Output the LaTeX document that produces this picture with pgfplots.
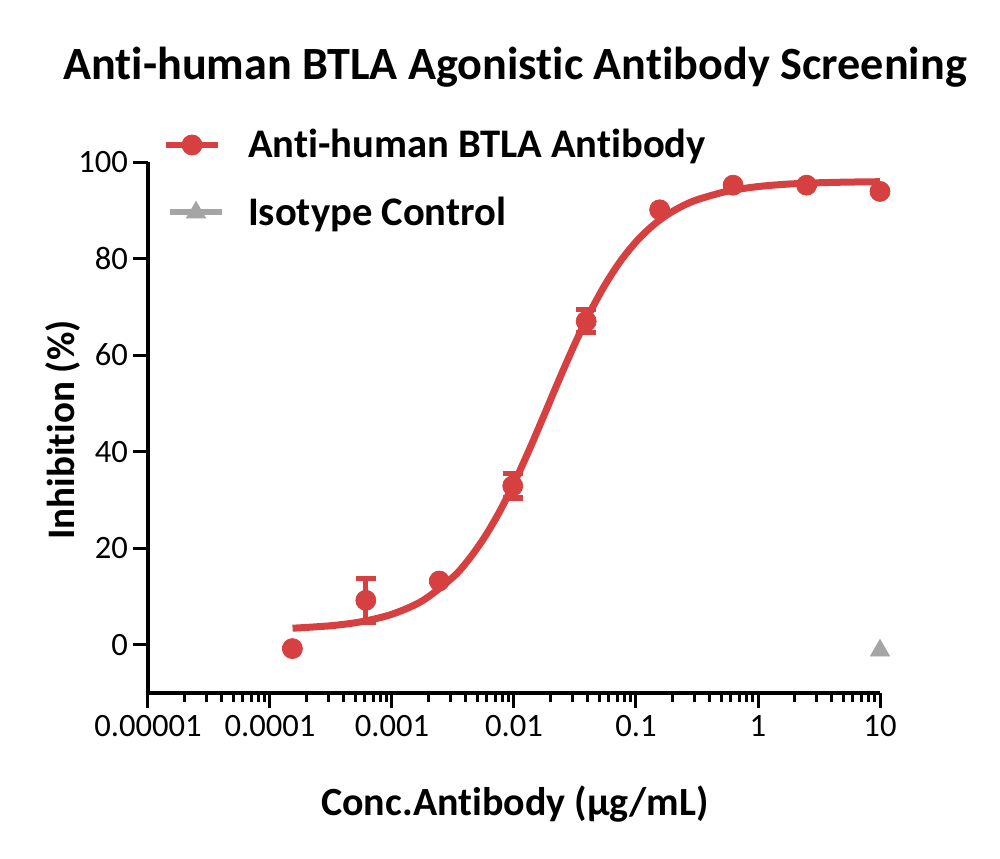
\documentclass[border=0pt]{standalone}
\usepackage{pgfplots}
\pgfplotsset{compat=1.18}
\usepackage{fontspec}
\setmainfont[Ligatures=NoCommon]{Carlito}
\definecolor{myred}{RGB}{214,64,64}
\definecolor{mygray}{RGB}{165,165,165}
\begin{document}
\begin{tikzpicture}
\begin{axis}[
  at={(0,0)}, anchor=south west,
  scale only axis, width=366pt, height=265.5pt,
  xmode=log, xmin=1e-5, xmax=10,
  ymin=-10, ymax=100,
  axis x line*=bottom, axis y line*=left,
  axis line style={line width=2.1pt, -},
  tick align=outside,
  major tick length=7.5pt, minor tick length=4.5pt,
  tick style={line width=1.5pt, black},
  xtick={1e-5,1e-4,1e-3,1e-2,1e-1,1,10},
  xticklabels={0.00001,0.0001,0.001,0.01,0.1,1,10},
  ytick={0,20,40,60,80,100},
  tick label style={font=\fontsize{16.3}{19}\selectfont},
  yticklabel style={xshift=1pt},
  /pgf/number format/assume math mode=true,
  clip=false,
  legend style={draw=none, fill=none, inner sep=0pt, at={(0.02,1.07)}, anchor=north west,
    font=\fontsize{20.3}{24}\selectfont\bfseries, row sep=14pt},
  legend cell align=left,
]
\addlegendimage{legend image code/.code={\draw[myred, line width=3pt] (0pt,0pt)--(26pt,0pt); \fill[myred] (13pt,0pt) circle (5pt); \path[draw=none, fill=none] (0pt,0pt) -- (39pt,0pt);}}
\addlegendentry{Anti-human BTLA Antibody}
\addlegendimage{legend image code/.code={\draw[mygray, line width=3pt] (2pt,0pt)--(28pt,0pt); \fill[mygray] (15pt,0pt) +(90:5.5pt) -- +(210:5.5pt) -- +(330:5.5pt) -- cycle; \path[draw=none, fill=none] (0pt,0pt) -- (39pt,0pt);}}
\addlegendentry{Isotype Control}

% fitted curve
\addplot[myred, line width=3.5pt, smooth, forget plot] coordinates {
(1.531e-4,3.42) (3.162e-4,3.94) (5.623e-4,4.77) (0.001,6.32) (1.778e-3,9.11)
(3.162e-3,14.0) (4.217e-3,17.53) (5.623e-3,21.94) (7.499e-3,27.25) (0.01,33.46)
(0.01334,40.38) (0.01778,47.75) (0.02371,55.22) (0.03162,62.4) (0.04217,68.97)
(0.05623,74.71) (0.07499,79.54) (0.1,83.46) (0.1334,86.57) (0.1778,88.97)
(0.2371,90.80) (0.3162,92.17) (0.5623,93.95) (1,94.91) (1.778,95.43)
(3.162,95.70) (5.623,95.84) (10,95.92)
};
% data with error bars
\addplot[myred, only marks, mark=*, mark size=5pt, forget plot,
  error bars/.cd, y dir=both, y explicit,
  error bar style={line width=2.6pt, myred},
  error mark options={rotate=90, mark size=5pt, line width=2.6pt, myred}]
coordinates {
(1.526e-4,-0.8) +- (0,0)
(6.104e-4,9.2) +- (0,4.5)
(2.441e-3,13.2) +- (0,0)
(9.766e-3,32.9) +- (0,2.5)
(0.03906,67.0) +- (0,2.4)
(0.15625,90.1) +- (0,0)
(0.625,95.2) +- (0,0)
(2.5,95.2) +- (0,0)
(10,93.9) +- (0,0)
};
% isotype control
\addplot[mygray, only marks, mark=triangle*, mark size=5.5pt, forget plot] coordinates {(10,-1.2)};
\end{axis}
\node[anchor=base, font=\fontsize{23.1}{28}\selectfont\bfseries] at (183.5pt,306.5pt) {Anti-human BTLA Agonistic Antibody Screening};
\node[anchor=base, font=\fontsize{20}{24}\selectfont\bfseries] at (183.5pt,-61pt) {Conc.Antibody (µg/mL)};
\node[rotate=90, font=\fontsize{19.5}{23}\selectfont\bfseries] at (-42.5pt,131.5pt) {Inhibition (\%)};
\pgfresetboundingbox
\useasboundingbox (-74pt,-82.5pt) rectangle (426pt,346.5pt);
\end{tikzpicture}
\end{document}
